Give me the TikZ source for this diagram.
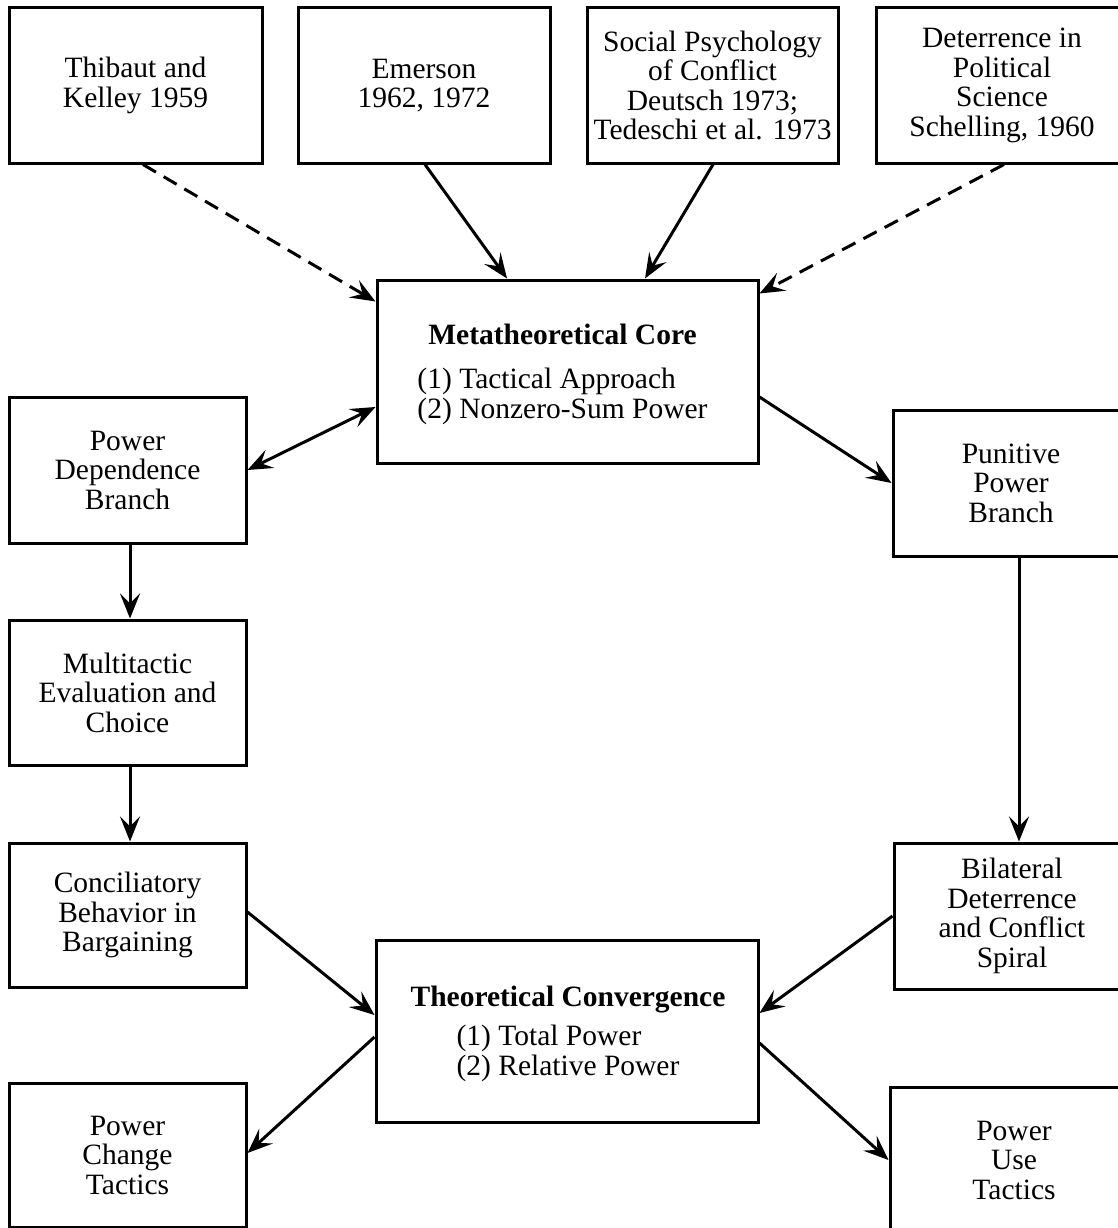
\documentclass[tikz,border=0pt]{standalone}
\usepackage{fontspec}
\setmainfont{Liberation Serif}
\usetikzlibrary{arrows.meta,calc}
\begin{document}
\begin{tikzpicture}[x=1pt,y=-1pt,
  txt/.style={inner sep=0pt, align=center, font=\fontsize{29.5}{29.5}\selectfont},
  box/.style={txt, draw, line width=3pt, rectangle},
  tip/.tip={Stealth[length=25pt,width=20pt,inset=10pt]},
  conn/.style={line width=3pt, -tip},
  biconn/.style={line width=3pt, tip-tip},
  dconn/.style={conn, dash pattern=on 15pt off 9pt},
]
\useasboundingbox (0,0) rectangle (1118,1228);
\clip (0,0) rectangle (1118,1228);
\fill[white] (0,0) rectangle (1118,1228);

% top row
\node[box, minimum width=253pt, minimum height=155pt] (thib) at (135.5,85.5) {Thibaut and\\Kelley 1959};
\node[box, minimum width=252pt, minimum height=155pt] (emer) at (424,85.5) {Emerson\\1962, 1972};
\node[box, minimum width=251pt, minimum height=155pt] (soc) at (712.5,85.5) {Social Psychology\\of Conflict\\Deutsch 1973;\\Tedeschi et al. 1973};
\node[box, minimum width=252pt, minimum height=155pt] (det) at (1002,85.5) {Deterrence in\\Political\\Science\\Schelling, 1960};

% core
\node[box, minimum width=381pt, minimum height=183pt] (meta) at (567.5,371.5) {};
\node[txt] (metatxt) at ([xshift=-5pt,yshift=-4pt]meta.center)
  {\textbf{Metatheoretical Core}\\[15pt]\begin{tabular}[t]{@{}l@{}}(1) Tactical Approach\\(2) Nonzero-Sum Power\end{tabular}};

% branches
\node[box, minimum width=237pt, minimum height=146pt] (pd) at (127.5,470) {Power\\Dependence\\Branch};
\node[box, minimum width=236pt, minimum height=146pt] (pun) at (1011,483) {Punitive\\Power\\Branch};
\node[box, minimum width=237pt, minimum height=145pt] (multi) at (127.5,692.5) {Multitactic\\Evaluation and\\Choice};
\node[box, minimum width=237pt, minimum height=144pt] (concil) at (127.5,915) {Conciliatory\\Behavior in\\Bargaining};
\node[box, minimum width=236pt, minimum height=146pt] (bil) at (1012,916) {Bilateral\\Deterrence\\and Conflict\\Spiral};

% convergence
\node[box, minimum width=382pt, minimum height=182pt] (tc) at (567,1031) {};
\node[txt] (tctxt) at ([xshift=1pt,yshift=-4pt]tc.center)
  {\textbf{Theoretical Convergence}\\[10pt]\begin{tabular}[t]{@{}l@{}}(1) Total Power\\(2) Relative Power\end{tabular}};

% bottom
\node[box, minimum width=237pt, minimum height=144pt] (pc) at (127.5,1155) {Power\\Change\\Tactics};
\node[box, minimum width=248pt, minimum height=146pt] (pu) at (1014,1160) {Power\\Use\\Tactics};

% connectors
\draw[dconn] ([xshift=7.5pt]thib.south) -- ([yshift=-23pt]meta.north west);
\draw[conn] ([xshift=1pt]emer.south) -- ([xshift=-60.5pt]meta.north);
\draw[conn] ([xshift=0.5pt]soc.south) -- ([xshift=77.5pt]meta.north);
\draw[dconn] ([xshift=2pt]det.south) -- ([yshift=-15pt]meta.north east);

\draw[biconn] (pd.east) -- ([yshift=-35.5pt]meta.west);
\draw[conn] ([yshift=-25.5pt]meta.east) -- (pun.west);

\draw[conn] ([xshift=2.5pt]pd.south) -- ([xshift=2.5pt]multi.north);
\draw[conn] ([xshift=2.5pt]multi.south) -- ([xshift=2.5pt]concil.north);
\draw[conn] ([xshift=8pt]pun.south) -- ([xshift=7pt]bil.north);

\draw[conn] ([yshift=3pt]concil.east) -- ([yshift=16pt]tc.west);
\draw[conn] ([yshift=-6pt]tc.west) -- ([yshift=2pt]pc.east);
\draw[conn] (bil.west) -- ([yshift=18pt]tc.east);
\draw[conn] ([yshift=-12pt]tc.east) -- (pu.west);
\end{tikzpicture}
\end{document}
